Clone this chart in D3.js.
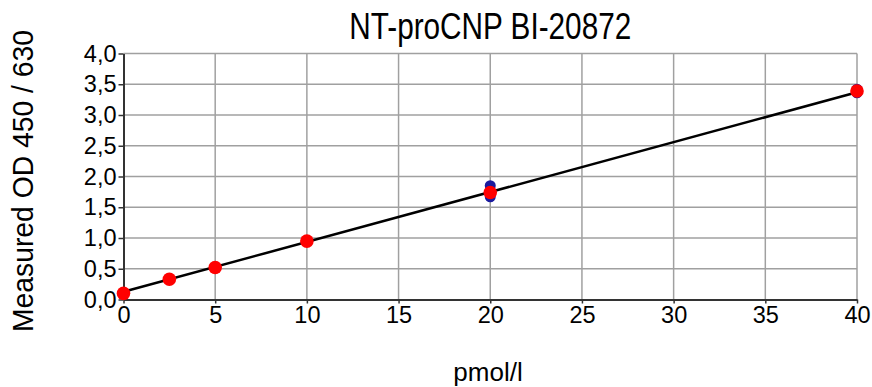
<!DOCTYPE html>
<html>
<head>
<meta charset="utf-8">
<script src="https://cdn.jsdelivr.net/npm/d3@7"></script>
<style>
    body { margin: 0; background: #fff; }
    svg text { font-family: "Liberation Sans", Arial, sans-serif; fill: #000; }
</style>
</head>
<body>
<svg id="chart" width="872" height="387"></svg>
<script>
// data
var title = "NT-proCNP BI-20872";
var xLabel = "pmol/l";
var yLabel = "Measured OD 450 / 630";

// replicate wells (blue) and their means (red)
var repX = [0, 0, 2.5, 2.5, 5, 5, 10, 10, 20, 20, 40, 40];
var repY = [0.10, 0.10, 0.33, 0.33, 0.52, 0.52, 0.95, 0.95, 1.85, 1.67, 3.42, 3.36];
var meanX = [0, 2.5, 5, 10, 20, 40];
var meanY = [0.10, 0.33, 0.52, 0.95, 1.74, 3.39];

// linear fit line, ends
var fitX = [0, 40];
var fitY = [0.125, 3.37];

var xTicks = [0, 5, 10, 15, 20, 25, 30, 35, 40];
var yTicks = [0, 0.5, 1, 1.5, 2, 2.5, 3, 3.5, 4];
var yTickLabels = ["0,0", "0,5", "1,0", "1,5", "2,0", "2,5", "3,0", "3,5", "4,0"];

var margin = { top: 53.5, right: 15, bottom: 87.5, left: 123.5 };
var width = 872 - margin.left - margin.right;
var height = 387 - margin.top - margin.bottom;

var svg = d3.select('#chart');

var xScale = d3.scaleLinear().domain([0, 40]).range([0, width]);
var yScale = d3.scaleLinear().domain([0, 4]).range([height, 0]);

var chart = svg.append('g')
    .attr('transform', `translate(${margin.left}, ${margin.top})`);

// grid
chart.append('g')
    .attr('class', 'grid-x')
    .selectAll('line').data(xTicks.slice(1)).enter().append('line')
    .attr('x1', d => xScale(d)).attr('x2', d => xScale(d))
    .attr('y1', 0).attr('y2', height)
    .style('stroke', '#a0a0a0').style('stroke-width', 1.5);
chart.append('g')
    .attr('class', 'grid-y')
    .selectAll('line').data(yTicks.slice(1)).enter().append('line')
    .attr('x1', 0).attr('x2', width)
    .attr('y1', d => yScale(d)).attr('y2', d => yScale(d))
    .style('stroke', '#a0a0a0').style('stroke-width', 1.5);

// axes
var xAxis = chart.append('g')
    .attr('class', 'axis axis-x')
    .attr('transform', `translate(0, ${height})`)
    .call(d3.axisBottom(xScale).tickValues(xTicks).tickSizeInner(4).tickSizeOuter(0).tickPadding(3));
var yAxis = chart.append('g')
    .attr('class', 'axis axis-y')
    .call(d3.axisLeft(yScale).tickValues(yTicks).tickFormat((d, i) => yTickLabels[i])
        .tickSizeInner(5).tickSizeOuter(0).tickPadding(2));

svg.selectAll('.axis path').style('stroke', '#333').style('stroke-width', 2);
svg.selectAll('.axis line').style('stroke', '#333').style('stroke-width', 1.5);
svg.selectAll('.axis text').style('font-size', '23.5px').style('font-family', '"Liberation Sans", Arial, sans-serif').attr('fill', '#000');
xAxis.selectAll('text').attr('dy', '0.71em');

// fit line
var line = d3.line().x(d => xScale(d[0])).y(d => yScale(d[1]));
chart.append('path')
    .datum(fitX.map((x, i) => [x, fitY[i]]))
    .attr('d', line)
    .style('fill', 'none').style('stroke', '#000').style('stroke-width', 2.5);

// replicates
chart.append('g').selectAll('circle')
    .data(repX.map((x, i) => [x, repY[i]])).enter().append('circle')
    .attr('cx', d => xScale(d[0])).attr('cy', d => yScale(d[1]))
    .attr('r', 5.5)
    .style('fill', '#1a1a9e');

// means
chart.append('g').selectAll('circle')
    .data(meanX.map((x, i) => [x, meanY[i]])).enter().append('circle')
    .attr('cx', d => xScale(d[0])).attr('cy', d => yScale(d[1]))
    .attr('r', 6.8)
    .style('fill', '#ff0000');

// titles
svg.append('text')
    .attr('x', margin.left + width / 2).attr('y', 39)
    .attr('text-anchor', 'middle')
    .attr('textLength', 282).attr('lengthAdjust', 'spacingAndGlyphs')
    .style('font-size', '36px')
    .text(title);

svg.append('text')
    .attr('x', 488).attr('y', 381)
    .attr('text-anchor', 'middle')
    .style('font-size', '26px')
    .text(xLabel);

svg.append('text')
    .attr('transform', 'translate(33, 181) rotate(-90)')
    .attr('text-anchor', 'middle')
    .attr('textLength', 302).attr('lengthAdjust', 'spacingAndGlyphs')
    .style('font-size', '29px')
    .text(yLabel);
</script>
</body>
</html>
